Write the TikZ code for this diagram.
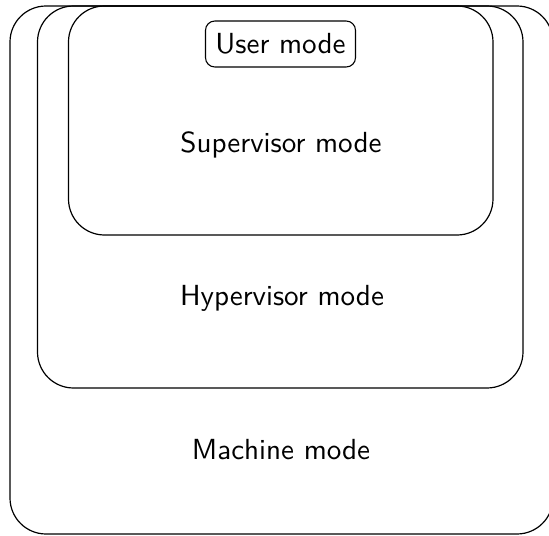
\documentclass[tikz,border=0pt]{standalone}
\begin{document}
\begin{tikzpicture}[x=0.375pt,y=-0.375pt,
  modebox/.style={draw, rounded corners=13.5pt, line width=0.45pt, inner sep=0pt},
  label/.style={font=\fontsize{10.9}{13}\selectfont\sffamily, inner sep=0pt},
  userbox/.style={draw, rounded corners=3.5pt, line width=0.4pt, font=\fontsize{10.9}{13}\selectfont\sffamily, minimum width=150*0.375pt, minimum height=46*0.375pt, inner sep=0pt}]
\useasboundingbox (0,0) rectangle (549,536);
\begin{scope}
\clip (0,0) rectangle (549,536);
\node[modebox, minimum width=543*0.375pt, minimum height=528*0.375pt] (machine) at (281.5,270) {};
\end{scope}
\node[modebox, minimum width=485.5*0.375pt, minimum height=382*0.375pt] (hyper) at (280.25,197) {};
\node[modebox, minimum width=424.5*0.375pt, minimum height=229*0.375pt] (super) at (280.75,120.5) {};
\node[userbox] (user) at (280.5,44) {User mode};
\node[label] (superlbl) at (281,145) {Supervisor mode};
\node[label] (hyperlbl) at (282,298) {Hypervisor mode};
\node[label] (machinelbl) at (281,450) {Machine mode};
\end{tikzpicture}
\end{document}
